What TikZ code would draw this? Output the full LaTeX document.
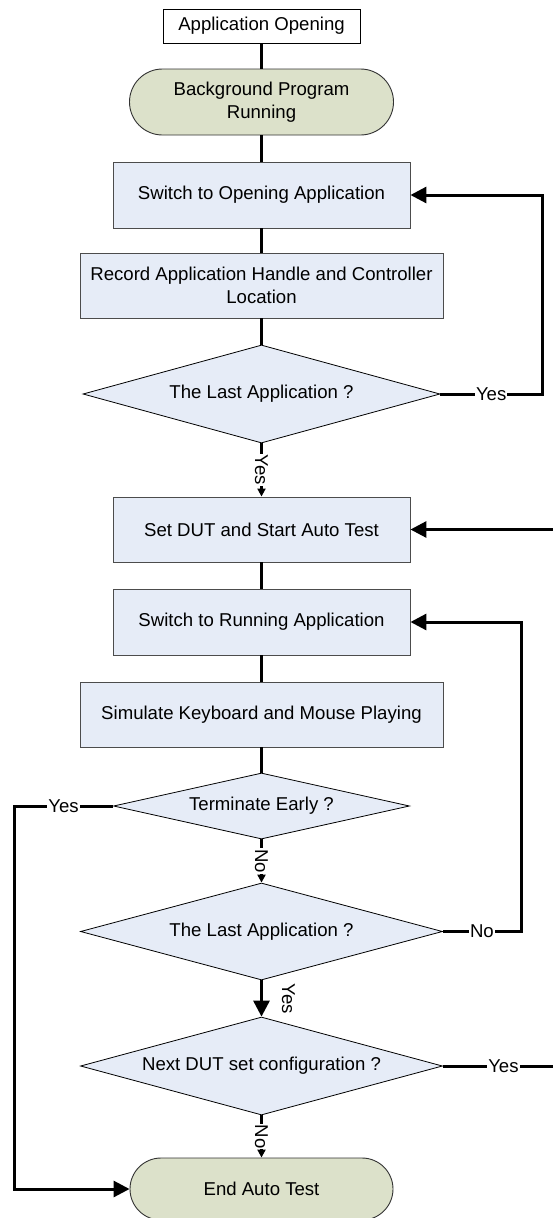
\documentclass[tikz,border=0pt]{standalone}
\usepackage{fontspec}
\setmainfont{Liberation Sans}
\usetikzlibrary{shapes.geometric,arrows.meta,calc}
\definecolor{boxblue}{HTML}{E6ECF7}
\definecolor{termgreen}{HTML}{DCE1CA}
\begin{document}
\begin{tikzpicture}[x=1pt,y=-1pt,
  every node/.style={font=\fontsize{18.6}{23}\selectfont, text=black},
  startbox/.style={draw=black, line width=0.8pt, fill=white, minimum width=197pt, minimum height=34pt, inner sep=0pt},
  proc/.style={draw=black!70, line width=0.9pt, fill=boxblue, minimum width=297pt, minimum height=66pt, inner sep=0pt, align=center},
  termnode/.style={draw=black!80, line width=0.9pt, fill=termgreen, inner sep=0pt, align=center},
  dec/.style={diamond, aspect=3.6, draw=black, line width=0.8pt, fill=boxblue, minimum width=357pt, minimum height=98pt, inner sep=0pt},
  conn/.style={line width=3pt, draw=black},
  bigtip/.style={-{Triangle[length=16pt,width=16pt]}},
  smalltip/.style={-{Triangle[length=8pt,width=8pt]}},
  lbl/.style={fill=white, inner sep=1pt}]
\fill[white] (0,0) rectangle (552,1218);
\useasboundingbox (0,0) rectangle (552,1218);

\node[startbox] (open) at (261.5,26) {Application Opening};
\node[termnode, minimum width=264pt, minimum height=66pt, rounded corners=33pt] (bg) at (261.5,102) {Background Program\\Running};
\node[proc] (sw1) at (261.5,195) {Switch to Opening Application};
\node[proc, minimum width=363pt, minimum height=65pt] (rec) at (261.5,285.5) {Record Application Handle and Controller\\Location};
\node[dec] (d1) at (261.5,394) {The Last Application ?};
\node[proc, minimum height=65pt] (set) at (261.5,529.5) {Set DUT and Start Auto Test};
\node[proc] (sw2) at (261.5,622) {Switch to Running Application};
\node[proc, minimum width=363pt, minimum height=65pt] (sim) at (261.5,714.5) {Simulate Keyboard and Mouse Playing};
\node[dec, minimum width=296pt, minimum height=66pt] (te) at (261.5,806) {Terminate Early ?};
\node[dec, minimum width=362pt, minimum height=97pt] (d2) at (261.5,931.5) {The Last Application ?};
\node[dec, minimum width=362pt, minimum height=98pt] (nd) at (261.5,1066) {Next DUT set configuration ?};
\node[termnode, minimum width=263pt, minimum height=62pt, rounded corners=31pt] (end) at (261.5,1189) {End Auto Test};

\coordinate (r1) at (542,0);
\coordinate (r2) at (521,0);
\coordinate (r3) at (564,0);
\coordinate (l1) at (14,0);

\draw[conn] (open) -- (bg);
\draw[conn] (bg) -- (sw1);
\draw[conn] (sw1) -- (rec);
\draw[conn] (rec) -- (d1);
\draw[conn, smalltip] (d1) -- node[lbl, rotate=-90] {Yes} (set);
\draw[conn] (set) -- (sw2);
\draw[conn] (sw2) -- (sim);
\draw[conn] (sim) -- (te);
\draw[conn, smalltip] (te) -- node[lbl, rotate=-90] {No} (d2);
\draw[conn, bigtip] (d2) -- (nd);
\node[rotate=-90, inner sep=0pt] (yl) at ($(d2.south)!.5!(nd.north)+(27,0)$) {Yes};
\draw[conn, smalltip] (nd) -- node[lbl, rotate=-90] {No} (end);

\draw[conn, bigtip] (d1.east) -- node[lbl] {Yes} (d1.east -| r1) |- (sw1.east);
\draw[conn, bigtip] (d2.east) -- node[lbl] {No} (d2.east -| r2) |- (sw2.east);
\draw[conn, bigtip] (nd.east) -- node[lbl] {Yes} (nd.east -| r3) |- (set.east);
\draw[conn, bigtip] (te.west) -- node[lbl] {Yes} (te.west -| l1) |- (end.west);
\end{tikzpicture}
\end{document}
